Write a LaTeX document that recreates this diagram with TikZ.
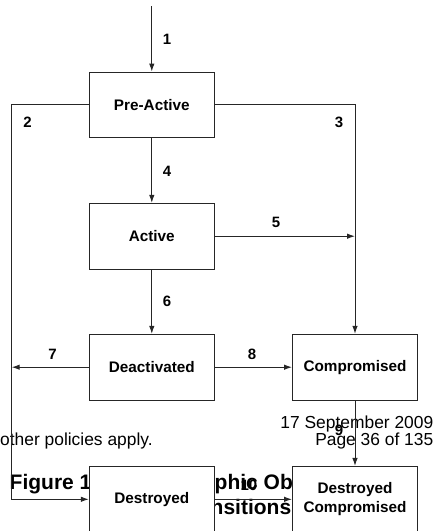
\documentclass[tikz,border=0pt]{standalone}
\usepackage{fontspec}
\setmainfont{Liberation Sans}
\usetikzlibrary{arrows.meta}
\begin{document}
\begin{tikzpicture}[x=1pt,y=-1pt,
  state/.style={draw=black!85, line width=1pt, fill=white, minimum width=125pt, minimum height=65.7pt, inner sep=0pt, font=\fontsize{15.3}{19}\selectfont\bfseries, align=center},
  lab/.style={font=\fontsize{15}{18}\selectfont\bfseries, inner sep=0pt},
  conn/.style={draw=black!85, line width=1pt},
  arr/.style={conn, -{Latex[length=8pt,width=5.5pt]}},
  over/.style={font=\fontsize{17.4}{20}\selectfont, inner sep=0pt},
  captxt/.style={font=\fontsize{21}{25}\selectfont\bfseries, inner sep=0pt}
]
\useasboundingbox (0,0) rectangle (435,531);

% stray overlaid page text
\node[over, anchor=base east] (date) at (433.5,428) {17 September 2009};
\node[over, anchor=base east] (page) at (433.5,445) {Page 36 of 135};
\node[over, anchor=base west] (pol) at (0,445) {other policies apply.};
\node[captxt, anchor=base west] (fig) at (9.5,489) {Figure 1};
\node[captxt, anchor=base west] (capa) at (214.5,489) {phic Ob};
\node[captxt, anchor=base west] (capb) at (210.5,514.5) {nsitions};

% states
\node[state] (pre)  at (151.8,104.9) {Pre-Active};
\node[state] (act)  at (151.8,236.2) {Active};
\node[state] (deac) at (151.8,367.2) {Deactivated};
\node[state] (comp) at (355,367.2) {Compromised};
\node[state] (des)  at (151.8,499.3) {Destroyed};
\node[state] (dc)   at (355,499.3) {Destroyed\\Compromised};

\coordinate (start) at (151.8,6);
\coordinate (L) at (11.7,0);

% transitions
\draw[arr] (start) -- (pre);
\draw[arr] (pre.west) -- (pre.west -| L) -- (des.west -| L) -- (des.west);
\draw[arr] (pre.east) -- (pre.east -| comp.north) -- (comp.north);
\draw[arr] (pre) -- (act);
\draw[arr] (act.east) -- (act.east -| comp.north);
\draw[arr] (act) -- (deac);
\draw[arr] (deac.west) -- (deac.west -| L);
\draw[arr] (deac) -- (comp);
\draw[arr] (comp) -- (dc);
\draw[arr] (des) -- (dc);

% labels
\node[lab] (l1) at (167,39) {1};
\node[lab] (l2) at (27.5,122) {2};
\node[lab] (l3) at (339,122) {3};
\node[lab] (l4) at (167,171.5) {4};
\node[lab] (l5) at (276,222.5) {5};
\node[lab] (l6) at (167,301) {6};
\node[lab] (l7) at (52.5,354) {7};
\node[lab] (l8) at (252,354) {8};
\node[lab] (l9) at (339,430) {9};
\node[lab] (l10) at (249,485) {10};
\end{tikzpicture}
\end{document}
